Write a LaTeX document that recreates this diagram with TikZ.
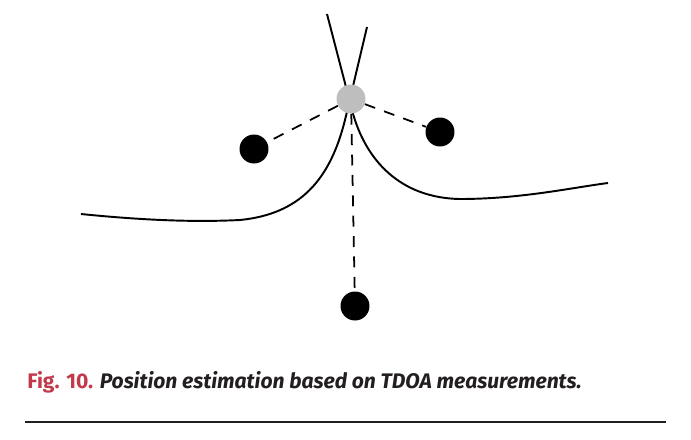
\documentclass[tikz,border=0pt]{standalone}
\usepackage{fontspec}
\setmainfont{Fira Sans}
\usepackage{tikz}

\definecolor{figred}{RGB}{193,57,75}
\definecolor{capgray}{RGB}{35,31,32}
\definecolor{estgray}{RGB}{190,190,190}

\tikzset{
  rxdot/.style={circle,fill=black,inner sep=0pt,minimum size=0.58cm},
  estimate/.style={circle,fill=estgray,inner sep=0pt,minimum size=0.58cm},
  rangeline/.style={line width=1pt,dash pattern=on 6.2pt off 5.4pt},
  hyper/.style={line width=1.1pt}
}

\begin{document}
\begin{tikzpicture}[x=0.02cm,y=-0.02cm]
  \useasboundingbox (0,0) rectangle (691,440);
  % hyperbola branches
  \draw[hyper] (81,214) .. controls (150,221) and (200,222) .. (240,220)
    .. controls (300,214) and (330,180) .. (345,120) -- (367,27);
  \draw[hyper] (327,14) -- (352,110) .. controls (365,160) and (400,198) .. (460,199)
    .. controls (520,199) and (570,188) .. (608,183);
  % receivers and position estimate
  \node[rxdot] (rxleft) at (254,149) {};
  \node[rxdot] (rxright) at (440,132) {};
  \node[rxdot] (rxbottom) at (355,306) {};
  \node[estimate] (pos) at (351,99) {};
  \draw[rangeline] (pos) -- (rxleft);
  \draw[rangeline] (pos) -- (rxright);
  \draw[rangeline] (pos) -- (rxbottom);
  % caption
  \node[anchor=base west,inner sep=0pt,font=\fontsize{12}{14}\selectfont\bfseries] (caption) at (27,388)
    {\textcolor{figred}{Fig. 10.} \textcolor{capgray}{\itshape Position estimation based on TDOA measurements.}};
  \draw[line width=0.75pt,capgray] (25,422) -- (666,422);
\end{tikzpicture}
\end{document}
